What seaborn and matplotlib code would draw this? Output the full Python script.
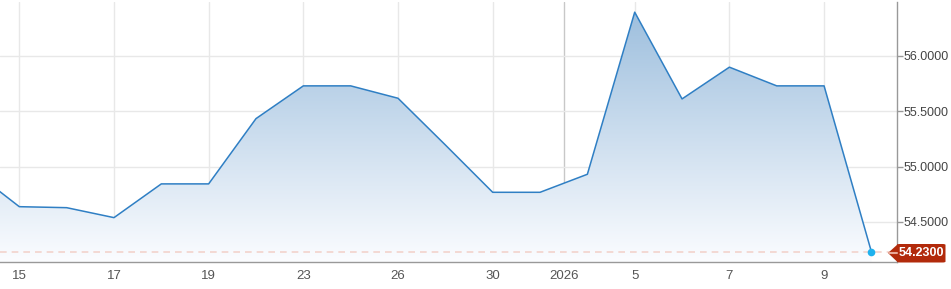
import numpy as np
import pandas as pd
import matplotlib
matplotlib.use("Agg")
import matplotlib.pyplot as plt
from matplotlib.patches import Polygon, FancyBboxPatch
import seaborn as sns

# ---- data (trading days, Dec 12 2025 .. Jan 12 2026) ----
dates = ["2025-12-12", "2025-12-15", "2025-12-16", "2025-12-17", "2025-12-18",
         "2025-12-19", "2025-12-22", "2025-12-23", "2025-12-24", "2025-12-26",
         "2025-12-29", "2025-12-30", "2025-12-31", "2026-01-02", "2026-01-05",
         "2026-01-06", "2026-01-07", "2026-01-08", "2026-01-09", "2026-01-12"]
values = [54.97, 54.638, 54.629, 54.539, 54.844,
          54.844, 55.434, 55.730, 55.730, 55.618,
          55.196, 54.768, 54.768, 54.931, 56.396,
          55.612, 55.899, 55.730, 55.730, 54.230]
tick_pos = [1, 3, 5, 7, 9, 11, 12.5, 14, 16, 18]
tick_labels = ["15", "17", "19", "23", "26", "30", "2026", "5", "7", "9"]
y_ticks = [54.5, 55.0, 55.5, 56.0]
last_label = "54.2300"

sns.set_style("white")
plt.rcParams["font.family"] = ["Liberation Sans", "DejaVu Sans"]

df = pd.DataFrame({"idx": np.arange(len(values)), "value": values, "date": dates})

W, H = 951, 289
fig = plt.figure(figsize=(W / 100, H / 100), dpi=100)
ax_left, ax_right, ax_top, ax_bottom = 0, 896.5, 2, 262
ax = fig.add_axes([ax_left / W, (H - ax_bottom) / H,
                   (ax_right - ax_left) / W, (ax_bottom - ax_top) / H])

x0, x1 = 0.5924, 19.53
y0, y1 = 54.138, 56.488
ax.set_xlim(x0, x1)
ax.set_ylim(y0, y1)

# grid
for t, lab in zip(tick_pos, tick_labels):
    ax.axvline(t, color="#c8c8c8" if lab == "2026" else "#e8e8e8", lw=1.0, zorder=0)
for yt in y_ticks:
    ax.axhline(yt, color="#e8e8e8", lw=1.0, zorder=0)

# gradient fill
xs = df["idx"].values
ys = df["value"].values
poly_pts = np.vstack([np.column_stack([xs, ys]), [[xs[-1], y0], [xs[0], y0]]])
poly = Polygon(poly_pts, closed=True, facecolor="none", edgecolor="none")
ax.add_patch(poly)
top_rgb = np.array([0.62, 0.75, 0.87])
bot_rgb = np.array([0.985, 0.99, 1.0])
n = 256
tvals = np.linspace(0, 1, n)[:, None]  # 0 at top
grad = top_rgb * (1 - tvals) + bot_rgb * tvals
img = np.repeat(grad[:, None, :], 2, axis=1)
im = ax.imshow(img, extent=[x0, x1, y0, max(values)], aspect="auto",
               origin="upper", zorder=1, interpolation="bicubic")
im.set_clip_path(poly)

# dashed last price line
ax.axhline(values[-1], color="#f3d3cc", lw=1.2, ls=(0, (4, 3)), zorder=2)

# line
sns.lineplot(data=df, x="idx", y="value", ax=ax, color="#2f7fc4", lw=1.1,
             zorder=3, legend=False)
ax.plot([xs[-1]], [ys[-1]], "o", color="#1fb2ee", ms=5.5, mec="none", zorder=4)

ax.set_xlabel("")
ax.set_ylabel("")

# axes styling
for s in ["top", "left"]:
    ax.spines[s].set_visible(False)
for s in ["bottom", "right"]:
    ax.spines[s].set_color("#999999")
    ax.spines[s].set_linewidth(1.0)
ax.set_xticks(tick_pos)
ax.set_xticklabels(tick_labels)
ax.yaxis.tick_right()
ax.set_yticks(y_ticks)
ax.set_yticklabels([f"{v:.4f}" for v in y_ticks])
ax.tick_params(axis="x", length=4, width=1, color="#999999", pad=2,
               labelsize=9.5, labelcolor="#555555")
ax.tick_params(axis="y", length=4, width=1, color="#999999", pad=1,
               labelsize=9, labelcolor="#444444", right=True, left=False)

# price label with arrow
yc = 253
con = plt.Line2D([897 / W, 889 / W], [1 - yc / H, 1 - yc / H], transform=fig.transFigure,
                 color="#e8a898", lw=1.5)
fig.add_artist(con)
box = FancyBboxPatch((897 / W, 1 - 262.5 / H), (945.5 - 897) / W, 18.5 / H,
                     boxstyle="round,pad=0,rounding_size=0.003",
                     transform=fig.transFigure, facecolor="#b22a0b", edgecolor="none")
fig.add_artist(box)
tri = Polygon([[888 / W, 1 - yc / H], [898 / W, 1 - 244 / H], [898 / W, 1 - 262.5 / H]],
              closed=True, transform=fig.transFigure, facecolor="#b22a0b", edgecolor="none")
fig.add_artist(tri)
fig.text(921 / W, 1 - (yc + 0.5) / H, last_label, color="white", fontsize=9,
         fontweight="bold", ha="center", va="center")

fig.savefig("out.png", dpi=100)
